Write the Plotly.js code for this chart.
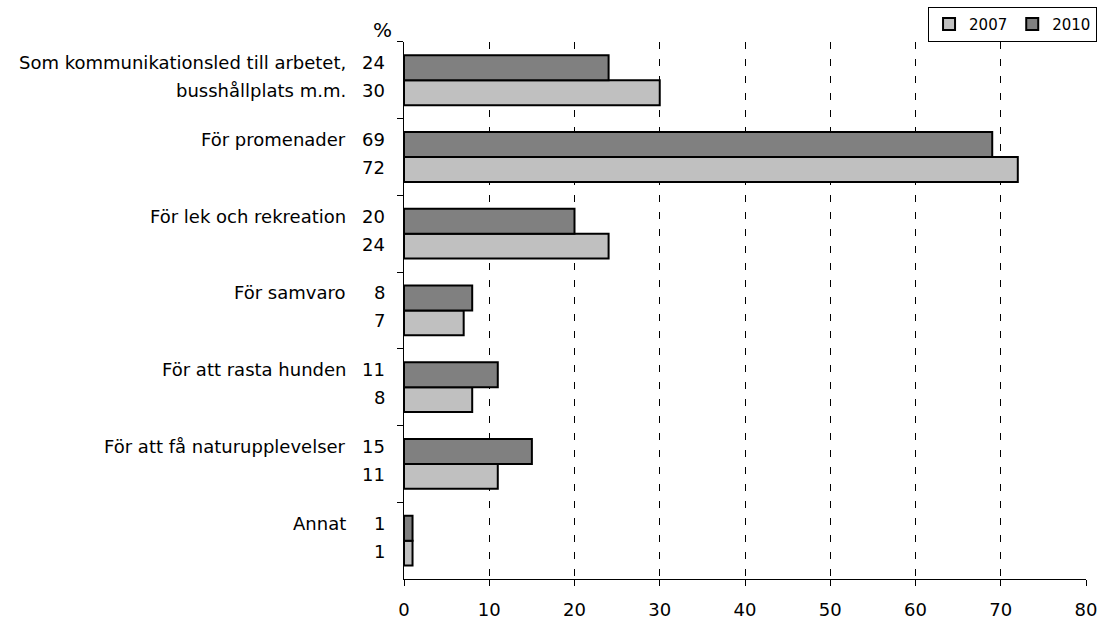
<!DOCTYPE html>
<html>
<head>
<meta charset="utf-8">
<script src="https://cdn.plot.ly/plotly-3.0.1.min.js"></script>
<style>html,body{margin:0;padding:0;background:#ffffff;}</style>
</head>
<body>
<div id="chart" style="width:1102px;height:621px;"></div>
<script>
// ---- data (top-to-bottom order as in the chart) ----
const categories = [
  "Som kommunikationsled till arbetet, busshållplats m.m.",
  "För promenader",
  "För lek och rekreation",
  "För samvaro",
  "För att rasta hunden",
  "För att få naturupplevelser",
  "Annat"
];
const labelLines = [
  ["Som kommunikationsled till arbetet,", "busshållplats m.m."],
  ["För promenader"],
  ["För lek och rekreation"],
  ["För samvaro"],
  ["För att rasta hunden"],
  ["För att få naturupplevelser"],
  ["Annat"]
];
const values2007 = [30, 72, 24, 7, 8, 11, 1];
const values2010 = [24, 69, 20, 8, 11, 15, 1];
const seriesNames = ["2007", "2010"];
const xTickValues = [0, 10, 20, 30, 40, 50, 60, 70, 80];
const unitLabel = "%";

// ---- styles ----
const FONT = "DejaVu Sans";
const colors = {"2007": "#c0c0c0", "2010": "#808080"};
const upperShift = 17.5, lowerShift = -10.5;

const traces = [
  {type: "bar", orientation: "h", name: seriesNames[0], y: categories, x: values2007,
   marker: {color: colors["2007"], line: {color: "#000000", width: 2}}, hoverinfo: "skip"},
  {type: "bar", orientation: "h", name: seriesNames[1], y: categories, x: values2010,
   marker: {color: colors["2010"], line: {color: "#000000", width: 2}}, hoverinfo: "skip"}
];

const annotations = [];
categories.forEach((c, i) => {
  annotations.push({x: 0, y: c, xref: "x", yref: "y", text: String(values2010[i]), showarrow: false,
    xanchor: "right", yanchor: "middle", xshift: -17, yshift: upperShift,
    font: {family: FONT, size: 18, color: "#000"}});
  annotations.push({x: 0, y: c, xref: "x", yref: "y", text: String(values2007[i]), showarrow: false,
    xanchor: "right", yanchor: "middle", xshift: -17, yshift: lowerShift,
    font: {family: FONT, size: 18, color: "#000"}});
  labelLines[i].forEach((line, k) => {
    annotations.push({x: 0, y: c, xref: "x", yref: "y", text: line, showarrow: false,
      xanchor: "right", yanchor: "middle", xshift: -56, yshift: k === 0 ? upperShift : lowerShift,
      font: {family: FONT, size: 18, color: "#000"}});
  });
});
annotations.push({x: 0, y: 1, xref: "paper", yref: "paper", text: unitLabel, showarrow: false,
  xanchor: "center", yanchor: "middle", xshift: -22, yshift: 12,
  font: {family: FONT, size: 20, color: "#000"}});

const layout = {
  width: 1102, height: 621,
  margin: {l: 404, r: 16, t: 41, b: 42, pad: 0},
  paper_bgcolor: "#ffffff", plot_bgcolor: "#ffffff",
  font: {family: FONT, size: 18, color: "#000000"},
  barmode: "group", bargap: 0.35, bargroupgap: 0,
  showlegend: true,
  legend: {orientation: "h", xref: "container", yref: "container",
    x: 0.9955, xanchor: "right", y: 0.989, yanchor: "top",
    bordercolor: "#000000", borderwidth: 1, bgcolor: "#ffffff",
    font: {family: FONT, size: 15, color: "#000"}, traceorder: "normal"},
  xaxis: {range: [0, 80], tickvals: xTickValues, ticktext: xTickValues.map(String),
    showgrid: true, gridcolor: "#000000", gridwidth: 1, griddash: "7px,10px",
    zeroline: false, showline: true, linecolor: "#000000", linewidth: 1,
    ticks: "outside", ticklen: 6, tickcolor: "#000000", tickwidth: 1,
    ticklabelstandoff: 8, automargin: false,
    tickfont: {family: FONT, size: 18, color: "#000"}, fixedrange: true},
  yaxis: {type: "category", categoryorder: "array", categoryarray: categories.slice().reverse(),
    range: [-0.5, categories.length - 0.5], automargin: false,
    showgrid: false, zeroline: false, showline: true, linecolor: "#000000", linewidth: 1,
    ticks: "outside", tickson: "boundaries", ticklen: 6, tickcolor: "#000000", tickwidth: 1,
    showticklabels: false, fixedrange: true},
  annotations: annotations
};

Plotly.newPlot("chart", traces, layout, {displayModeBar: false, staticPlot: true});
</script>
</body>
</html>
